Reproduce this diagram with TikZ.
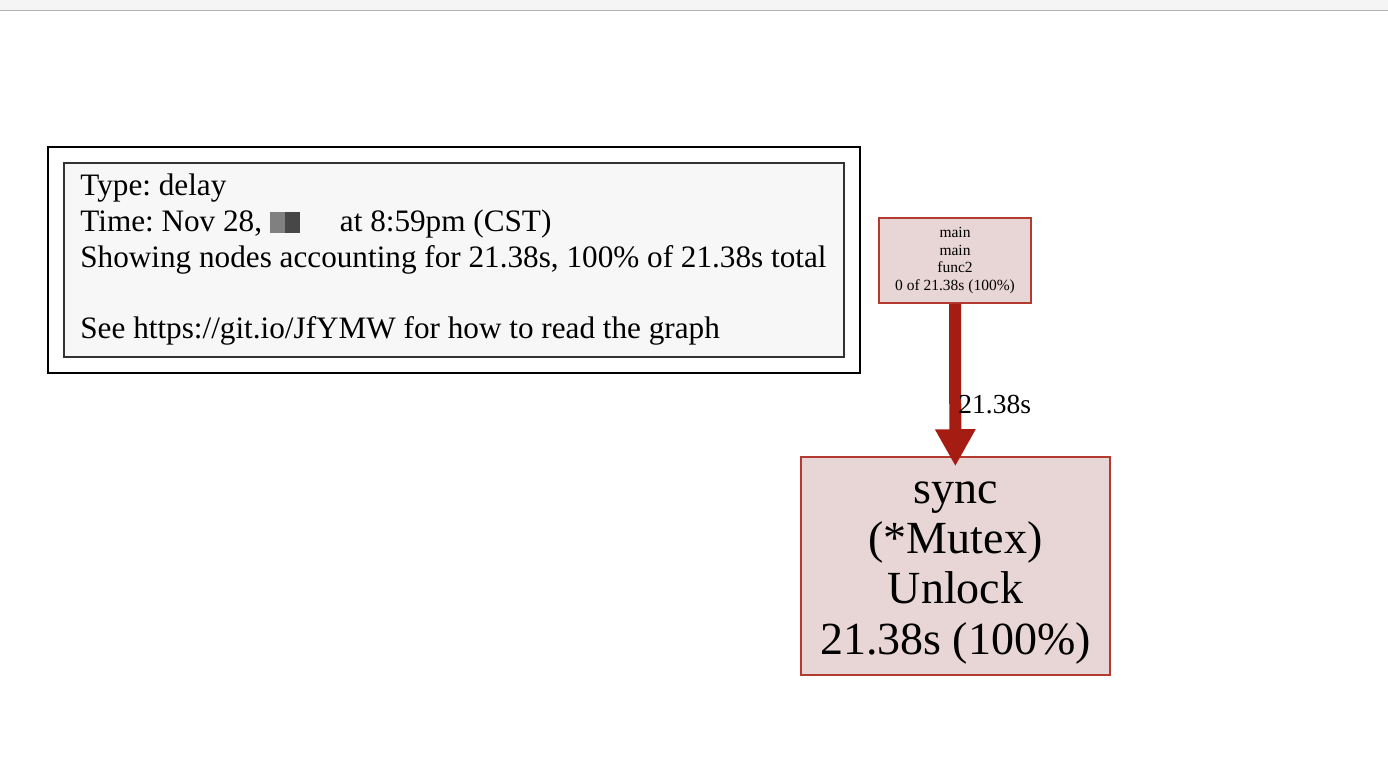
\documentclass[tikz,border=0pt]{standalone}
\usepackage{fontspec}
\setmainfont{Liberation Serif}
\usetikzlibrary{positioning,fit,arrows.meta}

\definecolor{hotfill}{HTML}{E8D5D5}
\definecolor{hotdraw}{HTML}{B23A2F}
\definecolor{hotedge}{HTML}{A51D12}
\definecolor{legendfill}{HTML}{F7F7F7}

\begin{document}
\begin{tikzpicture}[
  x=1pt, y=-1pt,
  legendbox/.style={draw=black!80, fill=legendfill, line width=1.6pt,
    minimum width=780pt, minimum height=194pt, inner sep=0pt},
  legendtext/.style={align=left, inner sep=0pt,
    font=\fontsize{31.2}{35.75}\selectfont\frenchspacing},
  legendframe/.style={draw=black, line width=1.8pt, inner sep=15pt},
  funcnode/.style={draw=hotdraw, fill=hotfill, line width=1.5pt, align=center, inner sep=0pt},
  smallfunc/.style={funcnode, minimum width=152pt, minimum height=85pt,
    font=\fontsize{15.5}{17.6}\selectfont},
  bigfunc/.style={funcnode, minimum width=309pt, minimum height=218pt,
    font=\fontsize{46}{50.4}\selectfont},
  calledge/.style={draw=hotedge, line width=12pt,
    -{Triangle[length=37pt,width=38pt]}, shorten >=-10pt},
  edgelabel/.style={font=\fontsize{27.5}{30}\selectfont, inner sep=0pt}
]
  \useasboundingbox (0,0) rectangle (1388,766);
  % browser strip at the top
  \fill[black!4] (0,0) rectangle (1388,10);
  \draw[black!30, line width=1.5pt] (0,10.5) -- (1388,10.5);

  \node[legendbox] (legend) at (454,260) {};
  \node[legendtext, anchor=west, right=17pt of legend.west] (legendinfo) {%
    \strut Type: delay\\
    Time: Nov 28, {\color{black!50}\rule[-2pt]{15pt}{21pt}}{\color{black!72}\rule[-2pt]{15pt}{21pt}}\hspace{40pt}at 8:59pm (CST)\\
    Showing nodes accounting for 21.38s, 100\% of 21.38s total\\[35.75pt]
    See https://git.io/JfYMW for how to read the graph\strut};
  \node[legendframe, fit=(legend)] (frame) {};

  \node[smallfunc] (func2) at (955,260.5) {main\\main\\func2\\0 of 21.38s (100\%)};
  \node[bigfunc] (unlock) at (955.5,566) {\strut sync\\(*Mutex)\\Unlock\\21.38s (100\%)};

  \draw[calledge] (func2) -- (unlock);
  \path (func2) -- (unlock)
    node[edgelabel, pos=0.66, anchor=west, xshift=3pt] (edge1) {21.38s};
\end{tikzpicture}
\end{document}
